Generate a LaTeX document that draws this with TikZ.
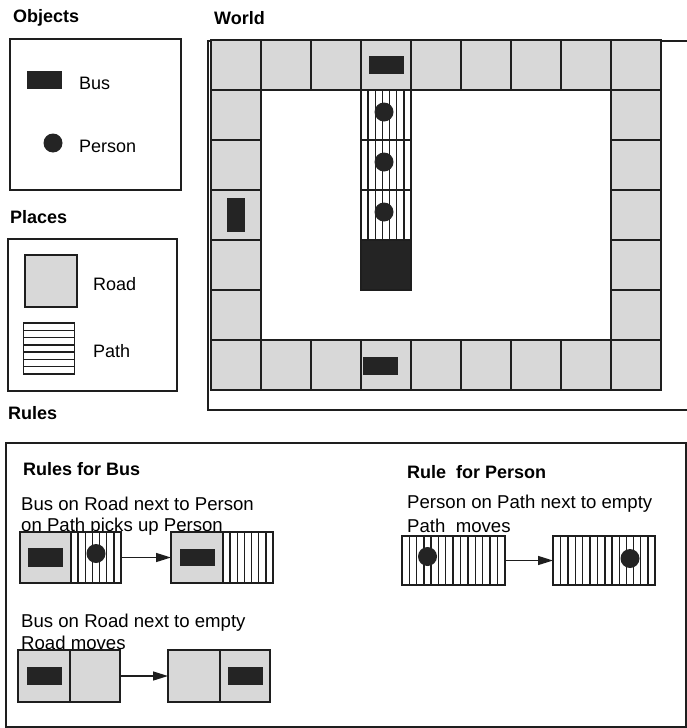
\documentclass[tikz,border=0pt]{standalone}
\usepackage{fontspec}
\setmainfont{Liberation Sans}
\usepackage{xcolor}
\definecolor{cInk}{HTML}{1E1E1E}
\definecolor{cRoad}{HTML}{D8D8D8}
\definecolor{cBlock}{HTML}{242424}
\usetikzlibrary{positioning,arrows.meta,calc}
\tikzset{
  cell/.style={draw=cInk,line width=1.6pt,minimum width=50pt,minimum height=50pt,
    inner sep=0pt,outer sep=0pt},
  cell-road/.style={cell,fill=cRoad},
  cell-stop/.style={cell,fill=cBlock},
  % path = stripes, vertical in the world, horizontal in the legend
  cell-path/.style={cell,fill=white,path picture={
    \foreach \k in {1,...,6}
      \draw[line width=1.4pt,cInk]
        ($(path picture bounding box.north west)!\k/7!(path picture bounding box.north east)$) --
        ($(path picture bounding box.south west)!\k/7!(path picture bounding box.south east)$);}},
  cell-hpath/.style={cell,fill=white,path picture={
    \foreach \k in {1,...,6}
      \draw[line width=1.4pt,cInk]
        ($(path picture bounding box.north west)!\k/7!(path picture bounding box.south west)$) --
        ($(path picture bounding box.north east)!\k/7!(path picture bounding box.south east)$);}},
  obj-bus/.style={fill=cBlock,minimum width=35pt,minimum height=18pt,inner sep=0pt},
  obj-bus-v/.style={obj-bus,minimum width=18pt,minimum height=34pt},
  obj-person/.style={circle,fill=cBlock,minimum size=19pt,inner sep=0pt},
  frame/.style={draw=cInk,line width=1.3pt},
  txt/.style={anchor=base west,inner sep=0pt,font={\fontsize{18}{22}\selectfont}},
  txt-rule/.style={txt,font={\fontsize{18.6}{22}\selectfont}},
  txt-head/.style={txt,font={\fontsize{18}{22}\selectfont\bfseries}},
  arrow/.style={-{Triangle[length=15pt,width=9pt]},line width=1.4pt,draw=cInk},
}

\begin{document}
\begin{tikzpicture}[x=1pt,y=-1pt]
  \useasboundingbox (0,0) rectangle (687,728);

  % legend: objects
  \node[txt-head] (hObj) at (13,22) {Objects};
  \draw[frame] (10,39) rectangle (181,190);
  \node[obj-bus] (lgBus) at (44.5,79.5) {};
  \node[txt] (tBus) at (79,89) {Bus};
  \node[obj-person] (lgPer) at (53,143) {};
  \node[txt] (tPer) at (79,152) {Person};

  % legend: places
  \node[txt-head] (hPla) at (10,223) {Places};
  \draw[frame] (8,239) rectangle (177,391);
  \node[cell-road,minimum size=52pt] (lgRoad) at (51,281) {};
  \node[txt] (tRoad) at (93,290) {Road};
  \node[cell-hpath,minimum size=51pt] (lgPath) at (49,348.5) {};
  \node[txt] (tPath) at (93,357) {Path};

  % world
  \node[txt-head] (hWld) at (214,24) {World};
  \draw[frame] (687,41) -- (208,41) -- (208,410) -- (687,410);
  \foreach \i in {0,...,8} {
    \node[cell-road] (top\i) at (236+50*\i,65) {};
    \node[cell-road] (bot\i) at (236+50*\i,365) {};
  }
  \foreach \j in {1,...,5} {
    \node[cell-road] (lft\j) at (236,65+50*\j) {};
    \node[cell-road] (rgt\j) at (636,65+50*\j) {};
  }
  \foreach \j in {1,2,3} {
    \node[cell-path] (pth\j) at (386,65+50*\j) {};
    \node[obj-person] (per\j) at (384,62+50*\j) {};
  }
  \node[cell-stop] (blk) at (386,265) {};
  \node[obj-bus] (busN) at (top3) {};
  \node[obj-bus-v] (busW) at (lft3) {};
  \node[obj-bus] (busS) at (380,366) {};

  % rules
  \node[txt-head] (hRul) at (8,419) {Rules};
  \draw[frame] (6,443) rectangle (686,727);

  \node[txt-head] (hBus) at (23,475) {Rules for Bus};
  \node[txt-rule] (tB1a) at (21,510) {Bus on Road next to Person};
  \node[txt-rule] (tB1b) at (21,531) {on Path picks up Person};
  \node[cell-road,minimum width=51pt,minimum height=51pt] (r1a) at (45.5,557.5) {};
  \node[cell-path,minimum height=51pt,right=0pt of r1a] (r1b) {};
  \node[cell-road,minimum width=52pt,minimum height=51pt,right=50pt of r1b] (r1c) {};
  \node[cell-path,minimum height=51pt,right=0pt of r1c] (r1d) {};
  \node[obj-bus,minimum height=19pt] (r1Bus) at (r1a) {};
  \node[obj-person] (r1Per) at ([yshift=4pt]r1b.center) {};
  \node[obj-bus,minimum height=17pt] (r1Bus2) at (r1c) {};
  \draw[arrow] (r1b) -- (r1c);

  \node[txt-rule] (tB2a) at (21,627) {Bus on Road next to empty};
  \node[txt-rule] (tB2b) at (21,649) {Road moves};
  \node[cell-road,minimum width=52pt,minimum height=52pt] (q1a) at (44,676) {};
  \node[cell-road,minimum height=52pt,right=0pt of q1a] (q1b) {};
  \node[cell-road,minimum width=52pt,minimum height=52pt,right=48pt of q1b] (q1c) {};
  \node[cell-road,minimum height=52pt,right=0pt of q1c] (q1d) {};
  \node[obj-bus] (q1Bus) at (q1a) {};
  \node[obj-bus] (q1Bus2) at (q1d) {};
  \draw[arrow] (q1b) -- (q1c);

  \node[txt-head] (hPer) at (407,478) {Rule~ for Person};
  \node[txt-rule] (tP1a) at (407,508) {Person on Path next to empty};
  \node[txt-rule] (tP1b) at (407,532) {Path~ moves};
  \node[cell-path,minimum width=51pt,minimum height=49pt] (p1a) at (427.5,560.5) {};
  \node[cell-path,minimum width=52pt,minimum height=49pt,right=0pt of p1a] (p1b) {};
  \node[cell-path,minimum width=52pt,minimum height=49pt,right=48pt of p1b] (p1c) {};
  \node[cell-path,minimum height=49pt,right=0pt of p1c] (p1d) {};
  \node[obj-person] (p1Per) at ([yshift=4pt]p1a.center) {};
  \node[obj-person] (p1Per2) at ([yshift=2pt]p1d.center) {};
  \draw[arrow] (p1b) -- (p1c);
\end{tikzpicture}
\end{document}
